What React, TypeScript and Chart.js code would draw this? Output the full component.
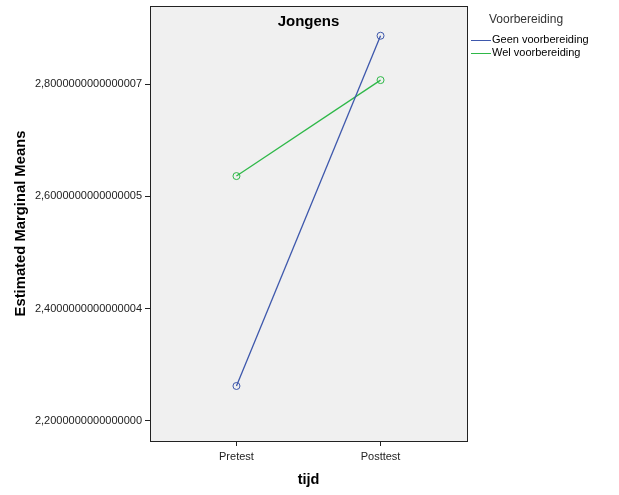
import React, { useEffect, useRef } from "react";
import { Chart, registerables } from "chart.js";

Chart.register(...registerables);

const categories = ["Pretest", "Posttest"];
const geenValues = [2.262, 2.886];
const welValues = [2.636, 2.807];
const yTickValues = [2.2, 2.4, 2.6, 2.8];
const yTickLabels = [
  "2,2000000000000000",
  "2,4000000000000004",
  "2,6000000000000005",
  "2,8000000000000007",
];
const seriesNames = ["Geen voorbereiding", "Wel voorbereiding"];
const seriesColors = ["#3E58AC", "#2EB848"];

const FONT = "'Liberation Sans', Arial, sans-serif";

const decorPlugin = {
  id: "decor",
  beforeDraw(chart: any) {
    const { ctx, chartArea: a } = chart;
    ctx.save();
    ctx.fillStyle = "#ffffff";
    ctx.fillRect(0, 0, chart.width, chart.height);
    ctx.fillStyle = "#F0F0F0";
    ctx.fillRect(a.left, a.top, a.right - a.left, a.bottom - a.top);
    ctx.restore();
  },
  afterDraw(chart: any) {
    const { ctx, chartArea: a } = chart;
    ctx.save();
    ctx.strokeStyle = "#222222";
    ctx.lineWidth = 1;
    ctx.strokeRect(Math.round(a.left) + 0.5, Math.round(a.top) + 0.5, Math.round(a.right - a.left), Math.round(a.bottom - a.top));
    // chart title
    ctx.fillStyle = "#000000";
    ctx.font = `bold 15px ${FONT}`;
    ctx.textAlign = "center";
    ctx.textBaseline = "middle";
    ctx.fillText("Jongens", (a.left + a.right) / 2, 22);
    // legend
    ctx.textAlign = "left";
    ctx.font = `12px ${FONT}`;
    ctx.fillStyle = "#333333";
    ctx.fillText("Voorbereiding", 489, 20);
    ctx.font = `11px ${FONT}`;
    seriesNames.forEach((name, i) => {
      const y = 40 + i * 13;
      ctx.strokeStyle = seriesColors[i];
      ctx.beginPath();
      ctx.moveTo(471, y + 0.5);
      ctx.lineTo(491, y + 0.5);
      ctx.stroke();
      ctx.fillStyle = "#000000";
      ctx.fillText(name, 492, y);
    });
    ctx.restore();
  },
};

export default function App() {
  const ref = useRef<HTMLCanvasElement | null>(null);
  useEffect(() => {
    document.body.style.margin = "0";
    const makeData = (vals: number[]) => vals.map((v, i) => ({ x: i + 1, y: v }));
    const chart = new Chart(ref.current as HTMLCanvasElement, {
      type: "line",
      data: {
        datasets: [geenValues, welValues].map((vals, i) => ({
          label: seriesNames[i],
          data: makeData(vals),
          borderColor: seriesColors[i],
          backgroundColor: "rgba(0,0,0,0)",
          borderWidth: 1.3,
          pointRadius: 3.5,
          pointBorderWidth: 1,
          pointBorderColor: seriesColors[i],
          pointBackgroundColor: "rgba(0,0,0,0)",
          tension: 0,
        })),
      },
      options: {
        animation: false,
        responsive: false,
        layout: { padding: { left: 0, top: 6, right: 152, bottom: 0 } },
        plugins: { legend: { display: false }, tooltip: { enabled: false }, title: { display: false } },
        scales: {
          x: {
            type: "linear",
            min: 0.4,
            max: 2.6,
            afterBuildTicks: (s: any) => {
              s.ticks = categories.map((_, i) => ({ value: i + 1 }));
            },
            afterFit: (s: any) => {
              s.height = 54;
              s.paddingLeft = 0;
              s.paddingRight = 0;
            },
            ticks: {
              callback: (v: any) => categories[Math.round(v) - 1] ?? "",
              color: "#222222",
              font: { family: FONT, size: 11 },
              padding: 4,
              maxRotation: 0,
            },
            grid: { drawOnChartArea: false, tickLength: 5, color: "#222222", tickColor: "#222222" },
            border: { display: false },
            title: {
              display: true,
              text: "tijd",
              color: "#000000",
              font: { family: FONT, size: 14.5, weight: "bold" },
              padding: { top: 1, bottom: 6 },
            },
          },
          y: {
            type: "linear",
            min: 2.164,
            max: 2.939,
            afterBuildTicks: (s: any) => {
              s.ticks = yTickValues.map((v) => ({ value: v }));
            },
            afterFit: (s: any) => {
              s.width = 150;
              s.paddingTop = 0;
              s.paddingBottom = 0;
            },
            ticks: {
              callback: (v: any) => {
                const idx = yTickValues.findIndex((t) => Math.abs(t - v) < 1e-6);
                return idx >= 0 ? yTickLabels[idx] : "";
              },
              color: "#222222",
              font: { family: FONT, size: 11 },
              padding: 3,
            },
            grid: { drawOnChartArea: false, tickLength: 5, color: "#222222", tickColor: "#222222" },
            border: { display: false },
            title: {
              display: true,
              text: "Estimated Marginal Means",
              color: "#000000",
              font: { family: FONT, size: 14.8, weight: "bold" },
              padding: { top: 12, bottom: 0 },
            },
          },
        },
      },
      plugins: [decorPlugin],
    } as any);
    return () => chart.destroy();
  }, []);
  return (
    <div style={{ position: "absolute", left: 0, top: 0, width: 619, height: 495 }}>
      <canvas ref={ref} width={619} height={495} style={{ width: 619, height: 495 }} />
    </div>
  );
}
